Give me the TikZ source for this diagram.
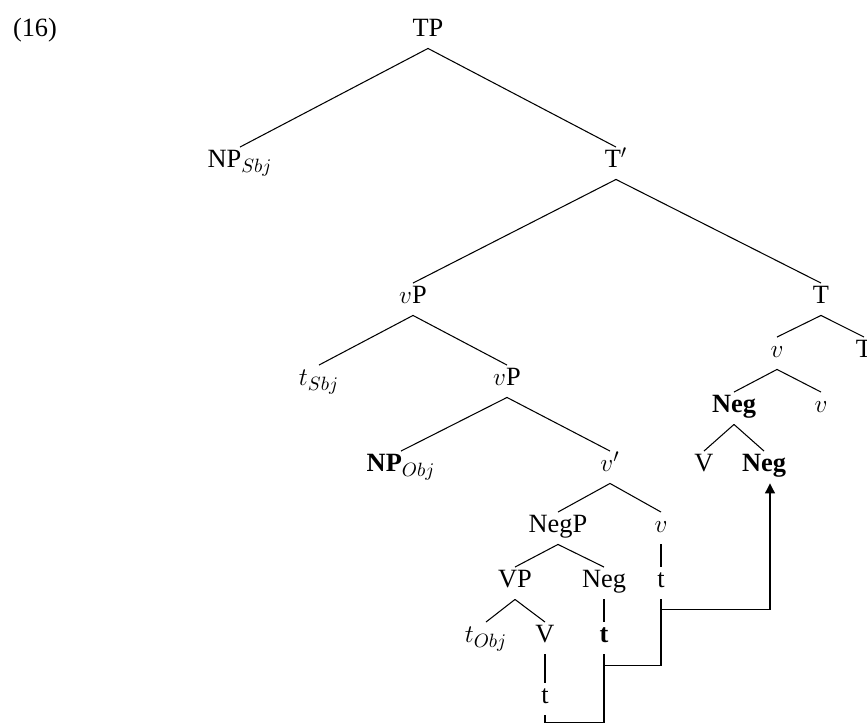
\documentclass[tikz,border=0pt]{standalone}
\usepackage{fontspec}
\setmainfont{Liberation Serif}
\usepackage{amsmath}
\usetikzlibrary{arrows.meta}

\begin{document}
\begin{tikzpicture}[
    cat/.style={font=\fontsize{15}{18}\selectfont, anchor=base, text height=0.66em, text depth=0.12em, inner xsep=0pt, inner ysep=0.18cm},
    branch/.style={line width=0.6pt},
    trace/.style={line width=1.5pt},
    move/.style={line width=0.6pt},
    arrow/.style={-{Triangle[length=0.2cm, width=0.2cm]}, line width=0.6pt}
]
    \clip (0,0) rectangle (17.34,14.5);

    % Example number
    \node[cat] (ex) at (0.70,13.76) {(16)};

    % Main spine
    \node[cat] (TP) at (8.56,13.76) {TP};
    \node[cat] (NPs) at (4.80,11.14) {NP$_{Sbj}$};
    \node[cat] (Tbar) at (12.32,11.14) {T$'$};
    \node[cat] (vP1) at (8.26,8.42) {$v$P};
    \node[cat] (T1) at (16.42,8.42) {T};
    \node[cat] (tSbj) at (6.38,6.78) {$t_{Sbj}$};
    \node[cat] (vP2) at (10.14,6.78) {$v$P};
    \node[cat] (NPo) at (8.02,5.06) {\textbf{NP}$_{Obj}$};
    \node[cat] (vbar) at (12.20,5.06) {$v'$};
    \node[cat] (NegP) at (11.16,3.84) {NegP};
    \node[cat] (v3) at (13.22,3.84) {$v$};
    \node[cat] (VP) at (10.30,2.74) {VP};
    \node[cat] (Neg) at (12.08,2.74) {Neg};
    \node[cat] (tv) at (13.22,2.74) {t};
    \node[cat] (tObj) at (9.72,1.64) {$t_{Obj}$};
    \node[cat] (V) at (10.90,1.64) {V};
    \node[cat] (tb) at (12.08,1.64) {\textbf{t}};
    \node[cat] (tV) at (10.90,0.42) {t};

    % Complex head in T
    \node[cat] (Tv) at (15.54,7.34) {$v$};
    \node[cat] (T2) at (17.28,7.34) {T};
    \node[cat] (NegB1) at (14.68,6.24) {\textbf{Neg}};
    \node[cat] (vv) at (16.42,6.24) {$v$};
    \node[cat] (Vr) at (14.08,5.06) {V};
    \node[cat] (NegB2) at (15.28,5.06) {\textbf{Neg}};

    % Branches
    \foreach \a/\b in {TP/NPs, TP/Tbar, Tbar/vP1, Tbar/T1, vP1/tSbj, vP1/vP2, vP2/NPo, vP2/vbar,
        vbar/NegP, vbar/v3, NegP/VP, NegP/Neg, VP/tObj, VP/V,
        T1/Tv, T1/T2, Tv/NegB1, Tv/vv, NegB1/Vr, NegB1/NegB2}
        \draw[branch] (\a.south) -- (\b.north);

    % Traces
    \foreach \a/\b in {v3/tv, Neg/tb, V/tV} \draw[trace] (\a.south) -- (\b.north);

    % Head movement
    \draw[move] (tV.south) -- ++(0,-0.14) -| (tb.south);
    \draw[move] (tb.south) -- ++(0,-0.22) -| (tv.south);
    \draw[arrow] (tv.south) -- ++(0,-0.2) -| ([xshift=0.12cm]NegB2.south);
\end{tikzpicture}
\end{document}
